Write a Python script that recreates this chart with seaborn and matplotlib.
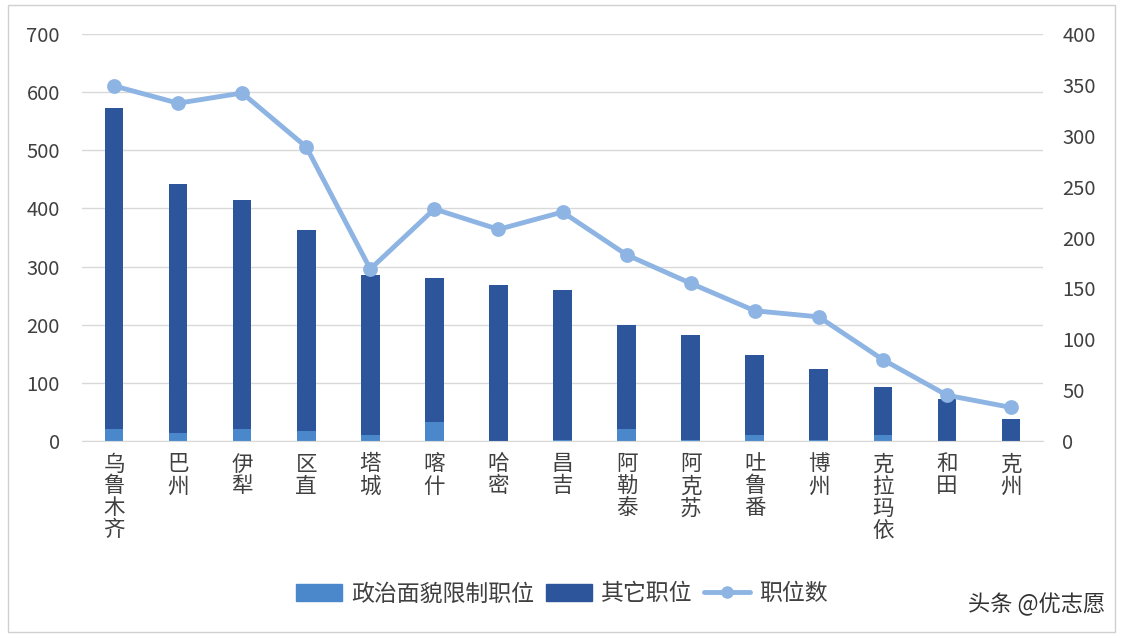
import matplotlib
matplotlib.use('Agg')
import matplotlib.pyplot as plt
import matplotlib.patches as mpatches
from matplotlib.lines import Line2D
import pandas as pd
import seaborn as sns

sns.set_style('white')
plt.rcParams['font.family'] = ['Noto Sans CJK SC', 'DejaVu Sans']

# data
regions = ['乌鲁木齐', '巴州', '伊犁', '区直', '塔城', '喀什', '哈密', '昌吉',
           '阿勒泰', '阿克苏', '吐鲁番', '博州', '克拉玛依', '和田', '克州']
restricted = [21, 14, 21, 17, 11, 32, 0, 2, 21, 1, 11, 1, 11, 0, 0]
totals = [572, 442, 414, 363, 285, 281, 268, 259, 200, 183, 148, 124, 93, 72, 38]
positions = [349, 332, 342, 289, 169, 228, 208, 225, 183, 155, 128, 122, 80, 45, 33]

left_ticks = [0, 100, 200, 300, 400, 500, 600, 700]
right_ticks = [0, 50, 100, 150, 200, 250, 300, 350, 400]

light = '#4a88cb'
dark = '#2c559c'
line_c = '#8db4e2'
txt = '#404040'

df = pd.DataFrame({'region': regions, 'restricted': restricted,
                   'total': totals, 'positions': positions})

fig = plt.figure(figsize=(11.24, 6.38), dpi=100)
ax = fig.add_axes([82 / 1124, 1 - 441 / 638, (1043 - 82) / 1124, (441 - 34) / 638])

# "stacked": full total in dark, restricted part drawn over it at the bottom
sns.barplot(data=df, x='region', y='total', color=dark, width=0.29,
            saturation=1, linewidth=0, ax=ax)
sns.barplot(data=df, x='region', y='restricted', color=light, width=0.29,
            saturation=1, linewidth=0, ax=ax)

ax.set_ylim(0, 700)
ax.set_yticks(left_ticks)
ax.yaxis.grid(True, color='#d9d9d9', linewidth=1)
ax.set_axisbelow(True)
for s in ['top', 'right', 'left']:
    ax.spines[s].set_visible(False)
ax.spines['bottom'].set_color('#d9d9d9')
ax.set_xlabel('')
ax.set_ylabel('')
ax.set_xticks(range(len(regions)))
ax.set_xticklabels(['\n'.join(r) for r in regions], fontsize=15.5, color=txt,
                   va='top', linespacing=1.0)
ax.tick_params(axis='x', length=0, pad=9)
ax.tick_params(axis='y', length=0, pad=16, labelsize=14.5, labelcolor=txt)
ax.set_xlim(-0.5, len(regions) - 0.5)

ax2 = ax.twinx()
sns.pointplot(data=df, x='region', y='positions', color=line_c, ax=ax2,
              markers='o', markersize=8, linewidth=3.5)
ax2.set_ylim(0, 400)
ax2.set_yticks(right_ticks)
ax2.set_ylabel('')
for s in ['top', 'right', 'left', 'bottom']:
    ax2.spines[s].set_visible(False)
ax2.tick_params(axis='y', length=0, pad=14, labelsize=14.5, labelcolor=txt)
ax2.set_xlim(-0.5, len(regions) - 0.5)

handles = [mpatches.Patch(color=light, label='政治面貌限制职位'),
           mpatches.Patch(color=dark, label='其它职位'),
           Line2D([0], [0], color=line_c, lw=3.5, marker='o', markersize=8,
                  label='职位数')]
leg = fig.legend(handles=handles, loc='center', bbox_to_anchor=(562 / 1124, 1 - 594 / 638),
                 ncol=3, frameon=False, fontsize=16.5, handlelength=2.0,
                 handleheight=0.8, columnspacing=0.5, handletextpad=0.4)
for t in leg.get_texts():
    t.set_color(txt)

fig.text(1105 / 1124, 1 - 604 / 638, '头条 @优志愿', ha='right', va='center',
         fontsize=16, color='#333333')

fig.patches.append(mpatches.Rectangle((8 / 1124, 1 - 632 / 638), 1107 / 1124, 627 / 638,
                                      transform=fig.transFigure, fill=False,
                                      edgecolor='#d0d0d0', linewidth=1))

fig.savefig('out.png', dpi=100)
